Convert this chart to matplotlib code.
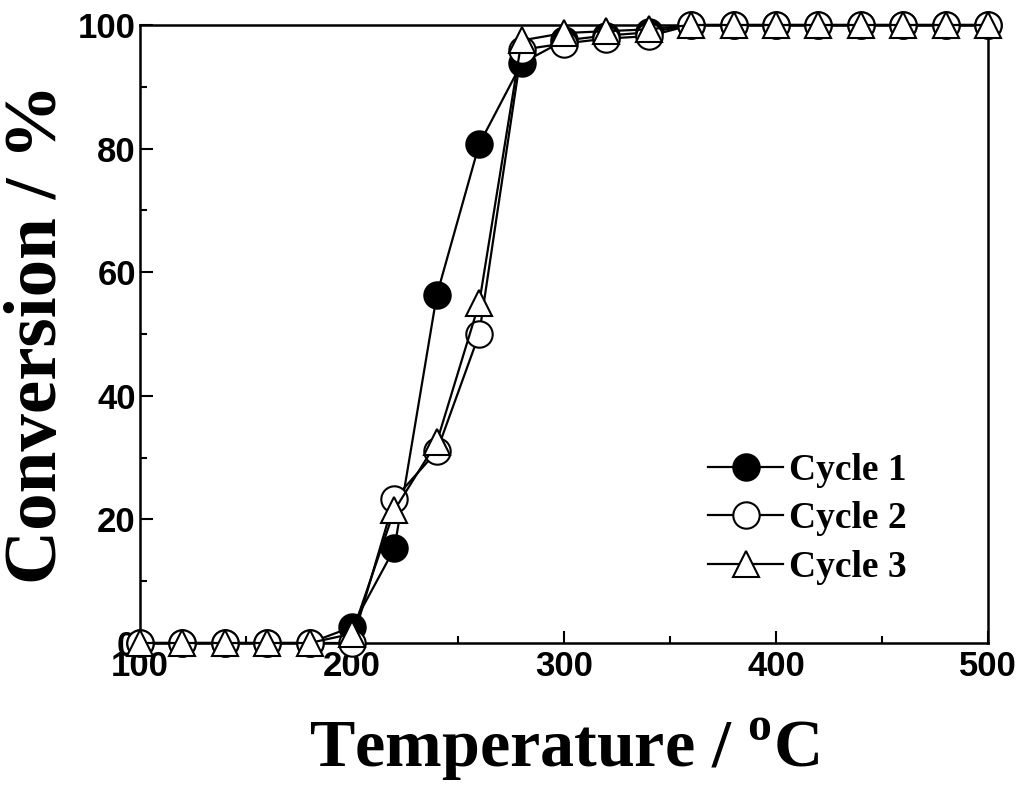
import matplotlib
matplotlib.use("Agg")
import matplotlib.pyplot as plt
from matplotlib.ticker import MultipleLocator

plt.rcParams['mathtext.fontset'] = 'custom'
plt.rcParams['mathtext.rm'] = 'Liberation Serif:bold'
plt.rcParams['mathtext.bf'] = 'Liberation Serif:bold'

temperature = [100, 120, 140, 160, 180, 200, 220, 240, 260, 280, 300, 320, 340,
               360, 380, 400, 420, 440, 460, 480, 500]
cycle1 = [0, 0, 0, 0, 0, 2.6, 15.3, 56.3, 80.7, 93.8, 97.5, 98.3, 98.8,
          100, 100, 100, 100, 100, 100, 100, 100]
cycle2 = [0, 0, 0, 0, 0, 0, 23.3, 31.0, 50.0, 96.0, 97.0, 97.8, 98.2,
          100, 100, 100, 100, 100, 100, 100, 100]
cycle3 = [0, 0, 0, 0, 0, 1.5, 21.5, 32.5, 55.0, 97.5, 98.7, 99.0, 99.3,
          100, 100, 100, 100, 100, 100, 100, 100]
labels = ["Cycle 1", "Cycle 2", "Cycle 3"]

fig = plt.figure(figsize=(10.24, 7.85), dpi=100)
ax = fig.add_axes([140/1024, 1 - 643/785, (988-140)/1024, (643-25)/785])

common = dict(color='black', lw=1.6, mec='black', mew=1.5, ms=19, clip_on=False)
ax.plot(temperature, cycle1, marker='o', mfc='black', label=labels[0], zorder=3, **common)
ax.plot(temperature, cycle2, marker='o', mfc='white', label=labels[1], zorder=4, **common)
ax.plot(temperature, cycle3, marker='^', mfc='white', label=labels[2], zorder=5, **common)

ax.set_xlim(100, 500)
ax.set_ylim(0, 100)
ax.xaxis.set_major_locator(MultipleLocator(100))
ax.xaxis.set_minor_locator(MultipleLocator(50))
ax.yaxis.set_major_locator(MultipleLocator(20))
ax.yaxis.set_minor_locator(MultipleLocator(10))
ax.tick_params(which='major', direction='in', length=9, width=1.5)
ax.tick_params(which='minor', direction='in', length=5, width=1.5)
ax.tick_params(axis='both', which='both', top=False, right=False)
for s in ax.spines.values():
    s.set_linewidth(1.8)

for lab in ax.get_xticklabels() + ax.get_yticklabels():
    lab.set_fontfamily('Liberation Sans')
    lab.set_fontweight('bold')
    lab.set_fontsize(25)
ax.tick_params(axis='x', pad=5)
ax.tick_params(axis='y', pad=3)

ax.set_xlabel(r'Temperature / $^{\mathrm{o}}$C', fontfamily='Liberation Serif',
              fontweight='bold', fontsize=49, labelpad=24)
ax.set_ylabel('Conversion / %', fontfamily='Liberation Serif',
              fontweight='bold', fontsize=54, labelpad=4)

leg = ax.legend(loc='lower right', bbox_to_anchor=(0.922, 0.07), frameon=False,
                prop={'family': 'Liberation Serif', 'weight': 'bold', 'size': 27},
                handlelength=2.0, handletextpad=0.15, labelspacing=0.36,
                markerscale=1.0, borderaxespad=0)

fig.savefig('out.png', dpi=100)
